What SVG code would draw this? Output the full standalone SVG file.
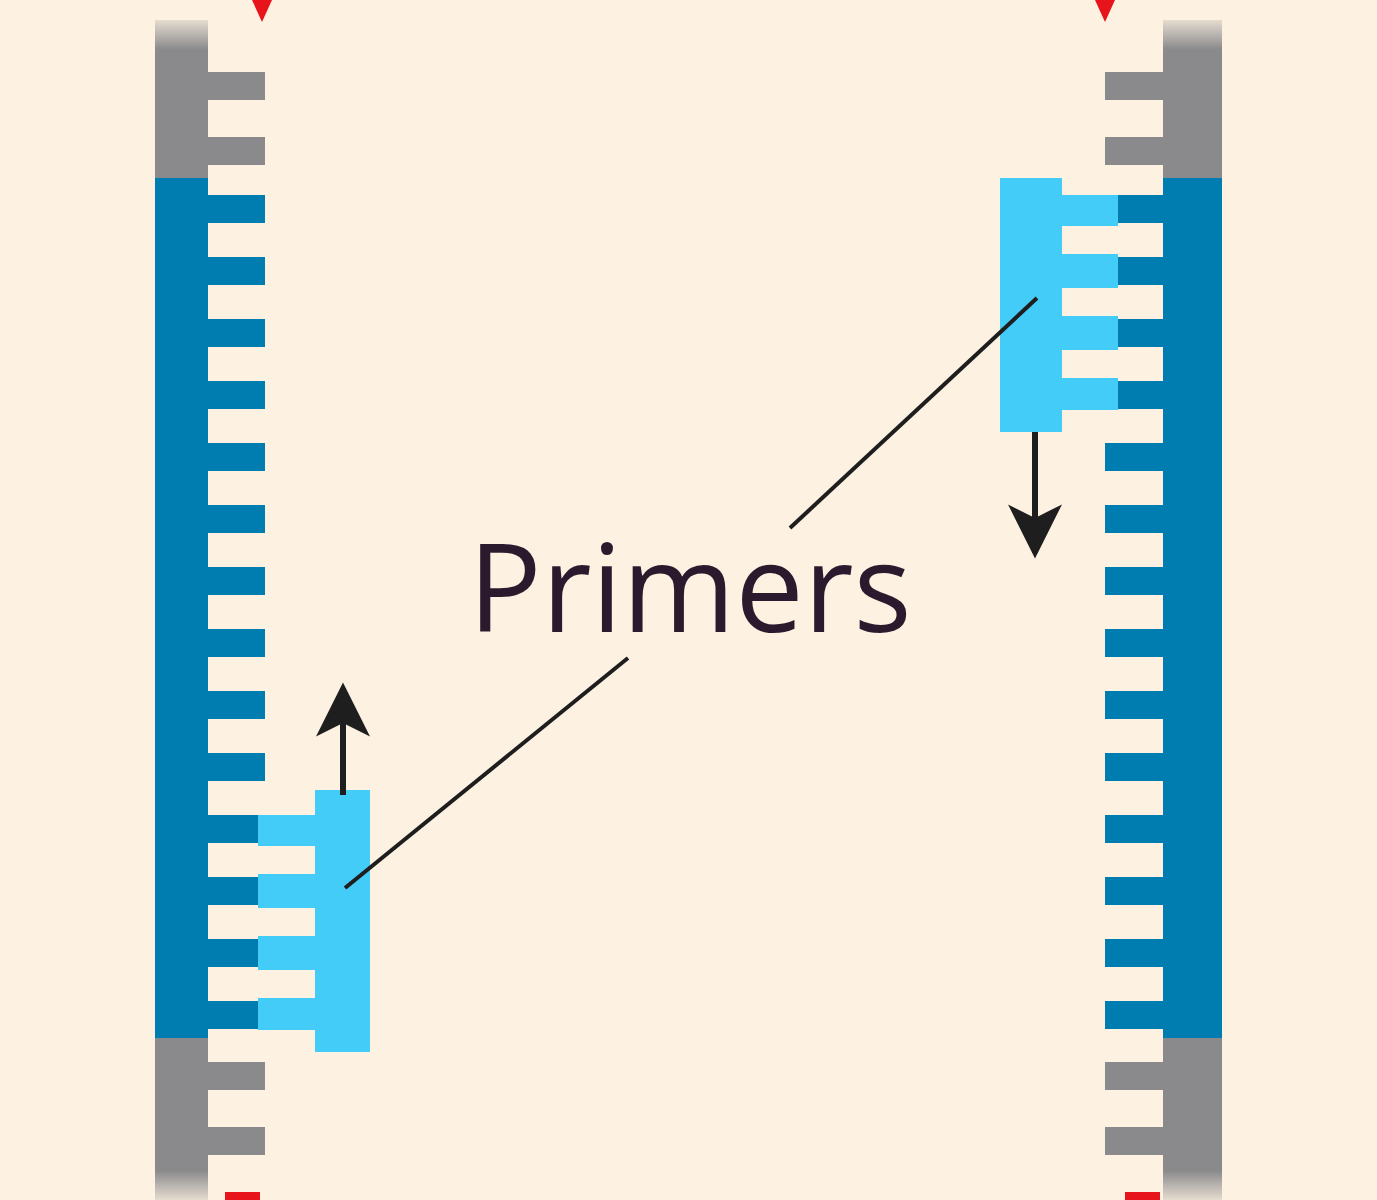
<svg xmlns="http://www.w3.org/2000/svg" width="1377" height="1200" viewBox="0 0 1377 1200">
<defs>
<linearGradient id="fade" x1="0" y1="0" x2="0" y2="1">
<stop offset="0" stop-color="#8a8a8c" stop-opacity="0.2"/><stop offset="0.025" stop-color="#8a8a8c"/><stop offset="0.975" stop-color="#8a8a8c"/><stop offset="1" stop-color="#8a8a8c" stop-opacity="0.2"/>
</linearGradient>
<marker id="ah" viewBox="0 0 10 10" refX="9" refY="5" markerWidth="11" markerHeight="9" orient="auto"><path d="M0,0 L10,5 L0,10 L2.5,5 Z" fill="#1e1e1e"/></marker>
<style>.g{fill:url(#fade)}.b{fill:#007db0}.lb{fill:#44ccf9}.gap{fill:#fdf1e1}.ln{stroke:#1e1e1e;stroke-width:4;fill:none}.ar{stroke:#1e1e1e;stroke-width:6;fill:none}</style>
</defs>
<rect width="1377" height="1200" fill="#fdf1e1"/>
<g id="strand-left">
<rect class="g" x="155" y="20" width="53" height="1180"/>
<rect class="b" x="155" y="178" width="53" height="860"/>
<g fill="#8a8a8c"><rect x="208" y="72" width="57" height="28"/><rect x="208" y="137" width="57" height="28"/><rect x="208" y="1062" width="57" height="28"/><rect x="208" y="1127" width="57" height="28"/></g>
<g class="b"><rect x="208" y="195" width="57" height="28"/><rect x="208" y="257" width="57" height="28"/><rect x="208" y="319" width="57" height="28"/><rect x="208" y="381" width="57" height="28"/><rect x="208" y="443" width="57" height="28"/><rect x="208" y="505" width="57" height="28"/><rect x="208" y="567" width="57" height="28"/><rect x="208" y="629" width="57" height="28"/><rect x="208" y="691" width="57" height="28"/><rect x="208" y="753" width="57" height="28"/><rect x="208" y="815" width="57" height="28"/><rect x="208" y="877" width="57" height="28"/><rect x="208" y="939" width="57" height="28"/><rect x="208" y="1001" width="57" height="28"/></g>
</g>
<g id="strand-right">
<rect class="g" x="1163" y="20" width="59" height="1180"/>
<rect class="b" x="1163" y="178" width="59" height="860"/>
<g fill="#8a8a8c"><rect x="1105" y="72" width="58" height="28"/><rect x="1105" y="137" width="58" height="28"/><rect x="1105" y="1062" width="58" height="28"/><rect x="1105" y="1127" width="58" height="28"/></g>
<g class="b"><rect x="1105" y="195" width="58" height="28"/><rect x="1105" y="257" width="58" height="28"/><rect x="1105" y="319" width="58" height="28"/><rect x="1105" y="381" width="58" height="28"/><rect x="1105" y="443" width="58" height="28"/><rect x="1105" y="505" width="58" height="28"/><rect x="1105" y="567" width="58" height="28"/><rect x="1105" y="629" width="58" height="28"/><rect x="1105" y="691" width="58" height="28"/><rect x="1105" y="753" width="58" height="28"/><rect x="1105" y="815" width="58" height="28"/><rect x="1105" y="877" width="58" height="28"/><rect x="1105" y="939" width="58" height="28"/><rect x="1105" y="1001" width="58" height="28"/></g>
</g>
<g id="primer-left">
<rect class="lb" x="258" y="815" width="57" height="215"/>
<rect class="lb" x="315" y="790" width="55" height="262"/>
<g class="gap"><rect x="208" y="846" width="107" height="28"/><rect x="208" y="908" width="107" height="28"/><rect x="208" y="970" width="107" height="28"/></g>
</g>
<g id="primer-right">
<rect class="lb" x="1062" y="195" width="56" height="215"/>
<rect class="lb" x="1000" y="178" width="62" height="254"/>
<g class="gap"><rect x="1062" y="226" width="101" height="28"/><rect x="1062" y="288" width="101" height="28"/><rect x="1062" y="350" width="101" height="28"/></g>
</g>
<g id="connectors">
<line class="ar" x1="343" y1="795" x2="343" y2="688" marker-end="url(#ah)"/>
<line class="ar" x1="1035" y1="432" x2="1035" y2="553" marker-end="url(#ah)"/>
<line class="ln" x1="345" y1="888" x2="628" y2="658"/>
<line class="ln" x1="790" y1="528" x2="1037" y2="298"/>
</g>
<g id="label"><text x="690" y="632" text-anchor="middle" font-family="Open Sans, Liberation Sans, sans-serif" font-size="122" fill="#2b1a2e">Primers</text></g>
<g fill="#e8141b"><path d="M252,0 L272,0 L262,22 Z"/><path d="M1095,0 L1115,0 L1105,22 Z"/><rect x="225" y="1192" width="35" height="8"/><rect x="1125" y="1192" width="35" height="8"/></g>
</svg>
